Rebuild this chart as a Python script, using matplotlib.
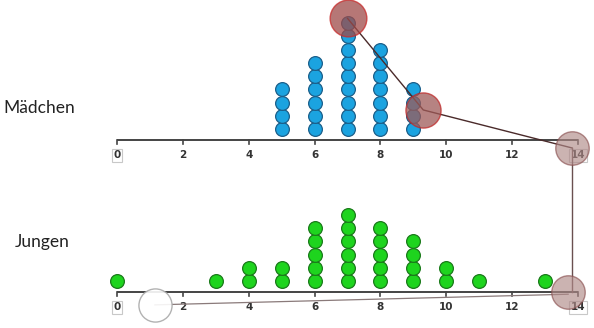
import matplotlib.pyplot as plt
import numpy as np

# dot counts per value
girls_vals = [5, 6, 7, 8, 9]
girls_cnt = [4, 6, 9, 7, 4]
boys_vals = [0, 3, 4, 5, 6, 7, 8, 9, 10, 11, 13]
boys_cnt = [1, 1, 2, 2, 5, 6, 5, 4, 2, 1, 1]
tick_vals = [0, 2, 4, 6, 8, 10, 12, 14]
row_labels = ["Mädchen", "Jungen"]

girls_base = 0.0
boys_base = -11.43
first = 0.8


def stack(vals, cnt, base):
    xs, ys = [], []
    for v, c in zip(vals, cnt):
        for k in range(c):
            xs.append(v)
            ys.append(base + first + k)
    return np.array(xs), np.array(ys)


def axis_line(ax, base):
    ax.plot([0, 14], [base, base], color="#444444", lw=1.4, zorder=2, solid_capstyle="butt")
    for t in tick_vals:
        ax.plot([t, t], [base, base - 0.3], color="#444444", lw=1.2, zorder=2)
        kw = {}
        if t in (0, 14):
            kw["bbox"] = dict(boxstyle="square,pad=0.15", fc="white", ec="#c8c8c8", lw=0.8)
        ax.text(t, base - 1.15, str(t), ha="center", va="center", fontsize=7.5,
                color="#333333", fontweight="bold", family="DejaVu Sans", **kw)


fig = plt.figure(figsize=(5.94, 3.28), dpi=100)
ax = fig.add_axes([0, 0, 1, 1])
ax.set_xlim(-3.553, 14.485)
ax.set_ylim(-14.14, 10.53)
ax.axis("off")

axis_line(ax, girls_base)
axis_line(ax, boys_base)

gx, gy = stack(girls_vals, girls_cnt, girls_base)
bx, by = stack(boys_vals, boys_cnt, boys_base)
ax.scatter(gx, gy, s=98, c="#1ba3e0", edgecolors="#1b5f8a", linewidths=0.9, zorder=3)
ax.scatter(bx, by, s=98, c="#1ed41e", edgecolors="#1a7a1a", linewidths=0.9, zorder=3)

ax.text(-3.45, 2.4, row_labels[0], fontsize=12.5, family="Lato", color="#222222", va="center")
ax.text(-3.1, -7.67, row_labels[1], fontsize=12.5, family="Lato", color="#222222", va="center")

# pointer annotation (circles joined by lines)
ax.plot([7.0, 9.3, 13.82], [9.15, 2.26, -0.6], color="#4a2a2a", lw=1.0, zorder=4)
ax.plot([13.82, 13.82], [-0.6, -11.43], color="#6a5050", lw=1.0, zorder=4)
ax.plot([13.7, 1.15], [-11.6, -12.4], color="#8a7a7a", lw=0.9, zorder=4)
ax.scatter([7.0], [9.15], s=700, c="#9e4a48", alpha=0.75,
           edgecolors="#c82a2a", linewidths=1.0, zorder=5)
ax.scatter([9.3], [2.26], s=640, c="#9e5a58", alpha=0.75,
           edgecolors="#c02a2a", linewidths=1.0, zorder=5)
ax.scatter([13.82, 13.7], [-0.6, -11.43], s=580, c="#b08a88", alpha=0.65,
           edgecolors="#8a5050", linewidths=1.0, zorder=5)
ax.scatter([1.15], [-12.4], s=570, c="white", alpha=0.9,
           edgecolors="#aaaaaa", linewidths=1.0, zorder=5)

fig.savefig("out.png", dpi=100)
